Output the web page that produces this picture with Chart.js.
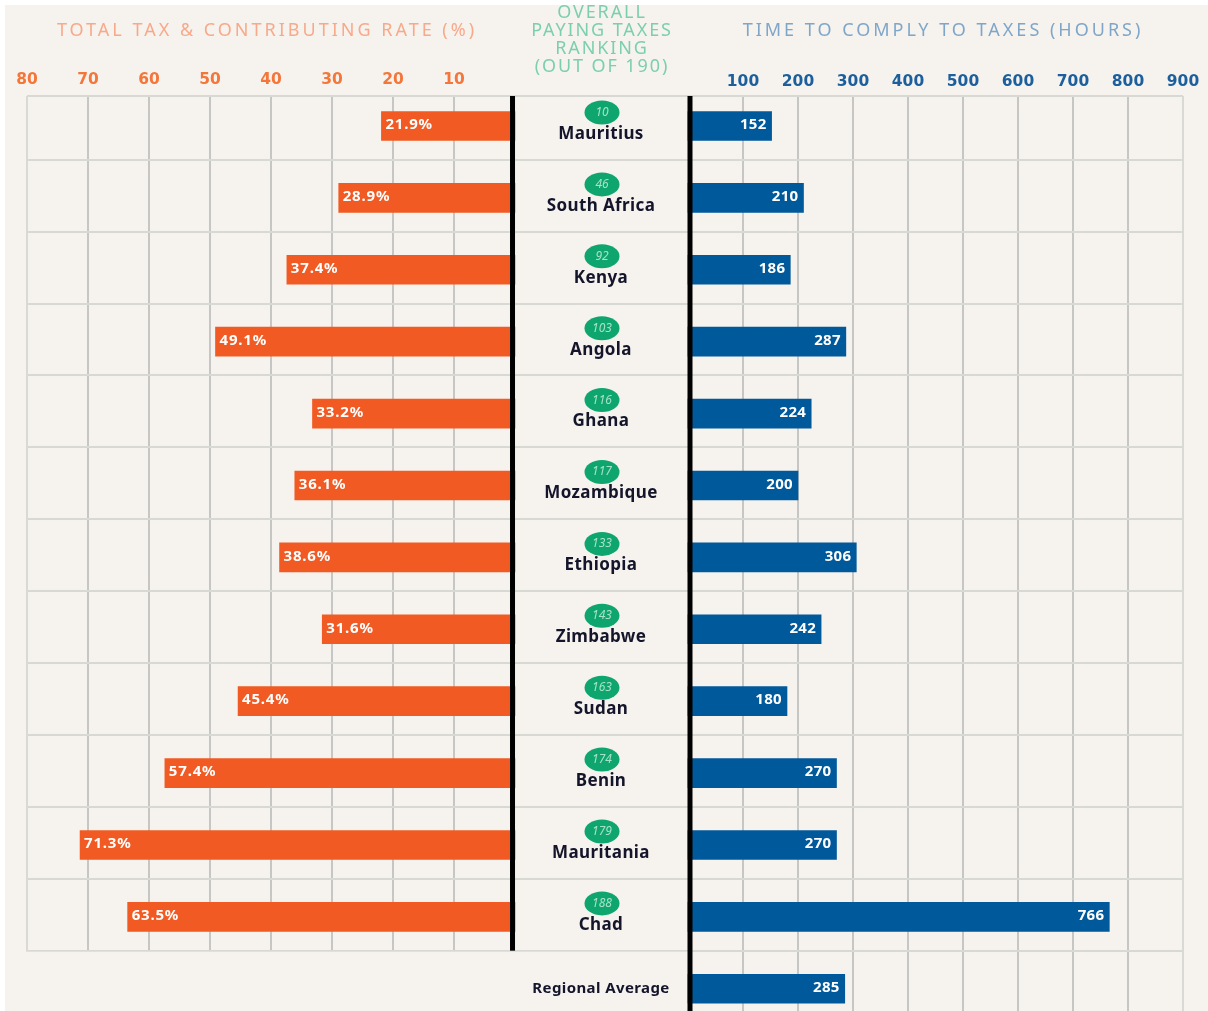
<!DOCTYPE html>
<html>
<head>
<meta charset="utf-8">
<title>Paying taxes ranking</title>
<script src="https://cdn.jsdelivr.net/npm/chart.js@4"></script>
<style>
html,body{margin:0;padding:0;background:#fff;overflow:hidden}
#panel{position:absolute;left:5px;top:5px;width:1203px;height:1006px;background:#f6f3ee}
canvas{position:absolute;left:0;top:0;filter:blur(0.5px)}
</style>
</head>
<body>
<div id="panel"></div>
<canvas id="c" width="1208" height="1011"></canvas>
<script>
const countries = ["Mauritius","South Africa","Kenya","Angola","Ghana","Mozambique","Ethiopia","Zimbabwe","Sudan","Benin","Mauritania","Chad","Regional Average"];
const ranks = [10,46,92,103,116,117,133,143,163,174,179,188];
const taxRates = [21.9,28.9,37.4,49.1,33.2,36.1,38.6,31.6,45.4,57.4,71.3,63.5];
const hours = [152,210,186,287,224,200,306,242,180,270,270,766,285];
const rateTicks = [10,20,30,40,50,60,70,80];
const hourTicks = [100,200,300,400,500,600,700,800,900];
const titleLeft = "TOTAL TAX & CONTRIBUTING RATE (%)";
const titleRight = "TIME TO COMPLY TO TAXES (HOURS)";
const titleCentre = ["OVERALL","PAYING TAXES","RANKING","(OUT OF 190)"];

const FONT = '"Noto Sans"';
const ORANGE = '#f15a22', BLUE = '#00599b';

function flatAxis(s){ s.height = 0; s.paddingLeft = 0; s.paddingRight = 0; }

const overlay = {
  id:'overlay',
  afterLayout(chart){
    // the two x axes share the strip above the plot: give their labels room
    chart.scales.xL.top = 60;
    chart.scales.xR.top = 60;
  },
  beforeDatasetsDraw(chart){
    // the lower-left region has no grid: the left table stops at its last row
    const c = chart.ctx, yS = chart.scales.y, xR = chart.scales.xR;
    c.save();
    c.fillStyle = '#f6f3ee';
    c.fillRect(5, yS.getPixelForValue(11.47)+1, xR.getPixelForValue(0)-5, 80);
    c.restore();
  },
  afterDatasetsDraw(chart){
    const c = chart.ctx, {xL,xR,y} = chart.scales;
    c.save();
    // axes
    const lx = xL.getPixelForValue(0)-2.5, rx = xR.getPixelForValue(0)+2;
    c.fillStyle = '#000';
    c.fillRect(lx-2.5, chart.chartArea.top, 5, y.getPixelForValue(11.47)-chart.chartArea.top);
    c.fillRect(rx-2.5, chart.chartArea.top, 5, chart.chartArea.bottom-chart.chartArea.top);
    // values in bars
    c.textBaseline='middle';
    c.font = `bold 15px ${FONT}`;
    c.fillStyle = '#fff';
    c.textAlign='left';
    c.letterSpacing='0.8px';
    taxRates.forEach((v,i)=>{
      c.fillText(v.toFixed(1)+'%', xL.getPixelForValue(v)+4, y.getPixelForValue(i)-1);
    });
    c.textAlign='right';
    c.letterSpacing='0.3px';
    hours.forEach((v,i)=>{
      c.fillText(String(v), xR.getPixelForValue(v)-5, y.getPixelForValue(i)-1);
    });
    // centre column
    const cx = 602;
    c.textAlign='center';
    ranks.forEach((r,i)=>{
      const py = y.getPixelForValue(i);
      c.beginPath();
      c.ellipse(cx, py-13.5, 17.5, 12, 0, 0, Math.PI*2);
      c.fillStyle = '#0fa56f';
      c.fill();
      c.fillStyle = '#a6e3c6';
      c.letterSpacing='0px';
      c.font = `italic 12px ${FONT}`;
      c.fillText(String(r), cx, py-13.5);
      c.fillStyle = '#14142a';
      c.letterSpacing='0.4px';
      c.font = `bold 17px ${FONT}`;
      c.fillText(countries[i], cx-1, py+8);
    });
    c.fillStyle = '#14142a';
    c.font = `bold 15px ${FONT}`;
    c.fillText(countries[12], cx-1, y.getPixelForValue(12));
    // headings
    c.font = `18px ${FONT}`;
    c.letterSpacing = '3px';
    c.fillStyle = '#f8a98a';
    c.fillText(titleLeft, 267, 31);
    c.fillStyle = '#7fa6c9';
    c.fillText(titleRight, 943, 31);
    c.fillStyle = '#7ccfae';
    c.letterSpacing = '1.9px';
    titleCentre.forEach((t,i)=>c.fillText(t, 602, 13+18*i));
    c.restore();
  }
};

new Chart(document.getElementById('c'), {
  type:'bar',
  plugins:[overlay],
  data:{
    datasets:[
      {label:'Total tax & contributing rate (%)', xAxisID:'xL', yAxisID:'y', backgroundColor:ORANGE,
       data:taxRates.map((v,i)=>({x:v,y:i}))},
      {label:'Time to comply to taxes (hours)', xAxisID:'xR', yAxisID:'y', backgroundColor:BLUE,
       data:hours.map((v,i)=>({x:v,y:i}))}
    ]
  },
  options:{
    indexAxis:'y',
    responsive:false,
    animation:false,
    devicePixelRatio:1,
    grouped:false,
    barThickness:29,
    layout:{padding:{left:27,right:25,top:96,bottom:0}},
    plugins:{legend:{display:false},tooltip:{enabled:false},title:{display:false}},
    scales:{
      xL:{
        type:'linear', position:'top', reverse:true, min:-109.5, max:80,
        afterBuildTicks(s){ s.ticks = rateTicks.map(v=>({value:v})); },
        afterFit:flatAxis,
        border:{display:false},
        grid:{color:c=>c.tick.value===80?'#d9d9d6':'#c6c6c4', lineWidth:2, drawTicks:false},
        ticks:{autoSkip:false,maxRotation:0,padding:7,color:'#f4763a',font:{family:'"DejaVu Sans"',size:15.5,weight:'bold'},callback:v=>String(v)}
      },
      xR:{
        type:'linear', position:'top', min:-1201.8, max:900,
        afterBuildTicks(s){ s.ticks = hourTicks.map(v=>({value:v})); },
        afterFit:flatAxis,
        border:{display:false},
        grid:{color:c=>c.tick.value===900?'#d9d9d6':'#c6c6c4', lineWidth:2, drawTicks:false},
        ticks:{autoSkip:false,maxRotation:0,padding:5,color:'#1c5f9c',font:{family:'"DejaVu Sans"',size:15.5,weight:'bold'},callback:v=>String(v)}
      },
      y:{
        type:'linear', reverse:true, min:-0.417, max:12.309, offset:false,
        afterBuildTicks(s){
          const rows = countries.slice(0,-1).map((_,i)=>({value:i+0.47}));
          s.ticks = [{value:-0.417}].concat(rows);
        },
        afterFit(s){ s.width = 0; },
        border:{display:false},
        grid:{offset:false,color:'#d8d8d4', lineWidth:2, drawTicks:false},
        ticks:{display:false}
      }
    }
  }
});
</script>
</body>
</html>
